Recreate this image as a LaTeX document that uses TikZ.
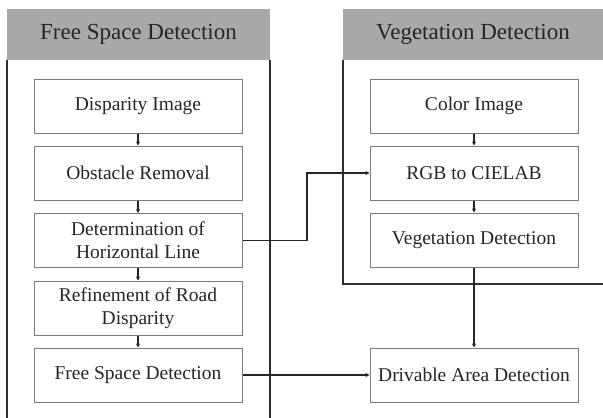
\documentclass[tikz,border=0pt]{standalone}
\usepackage{fontspec}
\setmainfont{Liberation Serif}
\usetikzlibrary{arrows.meta}
\definecolor{hdrgray}{HTML}{A9A9A9}
\definecolor{boxgray}{HTML}{7A7A7A}
\definecolor{panelline}{HTML}{2E2E2E}
\tikzset{
  hdr/.style={fill=hdrgray, draw=none, inner sep=0pt, font=\fontsize{23}{26}\selectfont, text=black!85},
  stepbox/.style={draw=boxgray, line width=1pt, fill=white, minimum width=208pt, minimum height=54pt, inner sep=0pt, align=center, font=\fontsize{19.5}{23}\selectfont, text=black!85},
  panel/.style={draw=panelline, line width=1.5pt},
  conn/.style={draw=black!85, line width=1.2pt, -{Stealth[length=4pt,width=4pt]}},
}
\begin{document}
\begin{tikzpicture}[x=1pt,y=-1pt]
\useasboundingbox (0,0) rectangle (603,418);
% headers
\node[hdr, minimum width=263pt, minimum height=51pt] (h1) at (138.5,34.5) {Free Space Detection};
\node[hdr, minimum width=260pt, minimum height=51pt] (h2) at (473,34.5) {Vegetation Detection};
% panel lines
\coordinate (l1a) at (7,60); \coordinate (l1b) at (7,418);
\coordinate (r1a) at (270,60); \coordinate (r1b) at (270,418);
\coordinate (l2a) at (343,60); \coordinate (l2b) at (343,284); \coordinate (l2c) at (603,284);
\draw[panel] (l1a) -- (l1b);
\draw[panel] (r1a) -- (r1b);
\draw[panel] (l2a) -- (l2b) -- (l2c);
% left boxes
\node[stepbox] (a1) at (138,106) {Disparity Image};
\node[stepbox] (a2) at (138,173) {Obstacle Removal};
\node[stepbox] (a3) at (138,240.5) {Determination of\\Horizontal Line};
\node[stepbox] (a4) at (138,308) {Refinement of Road\\Disparity};
\node[stepbox] (a5) at (138,375) {Free Space Detection};
% right boxes
\node[stepbox] (b1) at (474,106) {Color Image};
\node[stepbox] (b2) at (474,173) {RGB to CIELAB};
\node[stepbox] (b3) at (474,240) {Vegetation Detection};
\node[stepbox] (b4) at (474,375) {Drivable Area Detection};
% connectors
\draw[conn] (a1) -- (a2);
\draw[conn] (a2) -- (a3);
\draw[conn] (a3) -- (a4);
\draw[conn] (a4) -- (a5);
\draw[conn] (b1) -- (b2);
\draw[conn] (b2) -- (b3);
\draw[conn] (b3) -- (b4);
\coordinate (bend) at (307,240.5);
\draw[conn] (a3.east) -- (bend) |- (b2.west);
\draw[conn] (a5) -- (b4);
\end{tikzpicture}
\end{document}
